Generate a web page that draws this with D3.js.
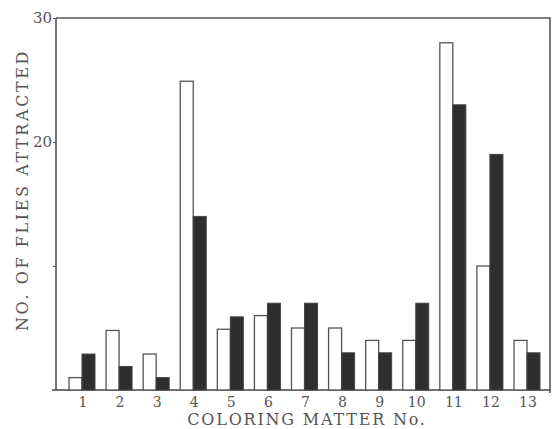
<!DOCTYPE html>
<html>
<head>
<meta charset="utf-8">
<script src="https://cdn.jsdelivr.net/npm/d3@7"></script>
<style>
  body { margin: 0; background: #fff; }
  text { font-family: "DejaVu Serif", "Liberation Serif", serif; fill: #555; }
</style>
</head>
<body>
<div class="chart"></div>
<script>
// coloring matter numbers and fly counts (white = first trial, dark = second)
const matters = ["1","2","3","4","5","6","7","8","9","10","11","12","13"];
const whiteVals = [1, 4.8, 2.9, 24.9, 4.9, 6, 5, 5, 4, 4, 28, 10, 4];
const darkVals  = [2.9, 1.9, 1, 14, 5.9, 7, 7, 3, 3, 7, 23, 19, 3];
const yTicks = [10, 20, 30];
const yTickLabels = ["", "20", "30"];

const W = 553, H = 429;
const svg = d3.select(".chart").append("svg")
  .attr("width", W).attr("height", H);

const x = d3.scalePoint().domain(matters).range([82, 527]);
const y = d3.scaleLinear().domain([0, 30]).range([390, 18]);
const bw = 13;

// frame
svg.append("path")
  .attr("d", `M56,${y(30)}H550V${y(0) + 3}`)
  .attr("fill", "none").attr("stroke", "#555").attr("stroke-width", 1.6);
svg.append("line")
  .attr("x1", 52).attr("x2", 550).attr("y1", y(0)).attr("y2", y(0))
  .attr("stroke", "#444").attr("stroke-width", 1.6);

// y axis
const yAxis = svg.append("g")
  .attr("transform", "translate(56,0)")
  .call(d3.axisLeft(y).tickValues(yTicks).tickSize(3)
    .tickFormat((d, i) => yTickLabels[i]));
yAxis.select(".domain").attr("d", `M0,${y(30)}V${y(0)}`)
  .attr("stroke", "#555").attr("stroke-width", 1.6);
yAxis.selectAll(".tick line").attr("stroke", "#555");
yAxis.selectAll(".tick text")
  .attr("x", -4).attr("dy", "0.3em")
  .style("font-size", "15px").style("font-family", "DejaVu Serif");

// bars
const g = svg.append("g");
g.selectAll(".white").data(matters).enter().append("rect")
  .attr("class", "white")
  .attr("x", d => x(d) - bw)
  .attr("y", (d, i) => y(whiteVals[i]))
  .attr("width", bw)
  .attr("height", (d, i) => y(0) - y(whiteVals[i]))
  .attr("fill", "#fff").attr("stroke", "#555").attr("stroke-width", 1.3);
g.selectAll(".dark").data(matters).enter().append("rect")
  .attr("class", "dark")
  .attr("x", d => x(d))
  .attr("y", (d, i) => y(darkVals[i]))
  .attr("width", bw)
  .attr("height", (d, i) => y(0) - y(darkVals[i]))
  .attr("fill", "#2e2e2e").attr("stroke", "#444").attr("stroke-width", 1);

// x tick labels
svg.selectAll(".xl").data(matters).enter().append("text")
  .attr("x", d => x(d) + 1)
  .attr("y", 407)
  .attr("text-anchor", "middle")
  .style("font-size", "14px")
  .text(d => d);

// axis titles
svg.append("text")
  .attr("x", 307).attr("y", 425)
  .attr("text-anchor", "middle")
  .style("font-size", "16px").style("letter-spacing", "1.8px")
  .text("COLORING MATTER No.");
svg.append("text")
  .attr("transform", "translate(28,190) rotate(-90)")
  .attr("text-anchor", "middle")
  .style("font-size", "16px").style("letter-spacing", "2.6px")
  .text("NO. OF FLIES ATTRACTED");
</script>
</body>
</html>
